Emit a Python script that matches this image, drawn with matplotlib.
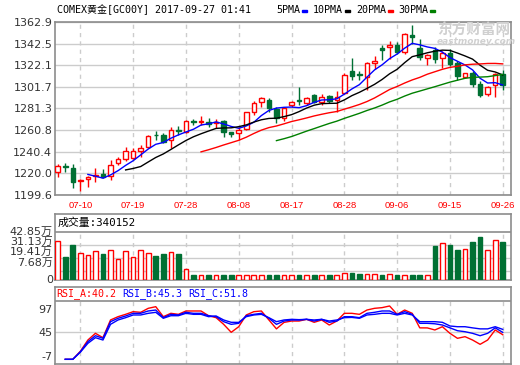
import numpy as np
import pandas as pd
import matplotlib
matplotlib.use('Agg')
import matplotlib.pyplot as plt
from matplotlib.patches import Rectangle

# trading days shown on the chart (07-05 .. 09-26)
dates = pd.bdate_range('2017-07-05', '2017-09-26')
tick_idx = list(range(3, len(dates), 7))

# candle data
opens = [1221.0, 1226.7, 1225.1, 1212.5, 1214.4, 1217.5, 1219.1, 1217.5, 1229.5, 1233.6,
         1234.2, 1241.4, 1244.6, 1256.6, 1255.9, 1251.5, 1260.9, 1259.3, 1269.4, 1268.8,
         1268.5, 1267.8, 1269.7, 1258.7, 1257.8, 1261.6, 1277.7, 1287.1, 1289.3, 1280.8,
         1272.0, 1284.9, 1289.3, 1286.2, 1294.0, 1287.7, 1293.0, 1289.3, 1295.6, 1316.7,
         1313.8, 1311.3, 1324.1, 1338.4, 1339.7, 1341.6, 1335.0, 1350.6, 1338.4, 1328.7,
         1336.3, 1328.7, 1333.8, 1324.1, 1311.3, 1314.5, 1304.6, 1295.1, 1303.0, 1313.6]
closes = [1227.0, 1225.7, 1212.2, 1213.5, 1216.6, 1218.8, 1216.3, 1227.6, 1233.6, 1241.4,
          1240.8, 1243.9, 1255.3, 1255.9, 1249.9, 1260.9, 1259.7, 1269.1, 1268.8, 1269.7,
          1266.6, 1268.8, 1259.3, 1257.2, 1260.9, 1277.7, 1286.2, 1290.9, 1281.4, 1272.0,
          1281.4, 1287.4, 1288.0, 1290.9, 1287.7, 1292.4, 1288.6, 1292.4, 1312.9, 1312.2,
          1312.9, 1323.9, 1326.3, 1336.9, 1341.6, 1334.7, 1351.6, 1349.1, 1329.6, 1331.8,
          1327.9, 1333.8, 1323.7, 1311.9, 1314.5, 1304.6, 1294.1, 1301.4, 1313.6, 1303.6]
highs = [1228.6, 1229.5, 1228.6, 1214.4, 1217.5, 1225.1, 1223.8, 1232.6, 1235.8, 1245.2,
         1244.3, 1246.5, 1256.6, 1260.3, 1257.8, 1263.5, 1264.7, 1270.4, 1271.6, 1274.2,
         1272.0, 1271.3, 1270.4, 1259.3, 1264.1, 1278.4, 1288.3, 1292.4, 1291.4, 1282.9,
         1282.9, 1288.3, 1301.3, 1292.4, 1294.9, 1294.9, 1294.0, 1298.1, 1314.5, 1328.6,
         1317.0, 1325.4, 1331.0, 1341.3, 1344.7, 1343.8, 1352.9, 1360.2, 1346.6, 1333.1,
         1338.9, 1335.4, 1337.2, 1326.3, 1315.1, 1316.7, 1307.6, 1302.4, 1315.1, 1317.4]
lows = [1216.3, 1221.6, 1206.5, 1203.4, 1207.5, 1212.2, 1215.8, 1213.8, 1227.9, 1232.0,
        1233.6, 1235.2, 1243.6, 1251.5, 1248.3, 1243.6, 1256.2, 1258.4, 1265.7, 1265.7,
        1264.1, 1262.9, 1254.1, 1254.1, 1251.5, 1260.9, 1275.1, 1282.9, 1278.2, 1267.8,
        1269.7, 1282.9, 1284.6, 1284.9, 1286.2, 1284.6, 1286.2, 1278.4, 1294.9, 1308.2,
        1308.2, 1298.7, 1318.4, 1327.0, 1327.9, 1332.5, 1333.1, 1342.2, 1327.0, 1322.4,
        1324.6, 1319.9, 1321.4, 1308.3, 1310.4, 1301.4, 1291.9, 1293.5, 1291.9, 1298.7]

# volume in units of 10k (万)
volume = [35.0, 20.7, 31.4, 24.0, 22.2, 25.8, 23.4, 26.6, 18.6, 25.8,
          20.4, 26.6, 24.0, 21.6, 23.4, 24.9, 23.4, 9.6, 4.2, 4.2,
          4.2, 4.2, 4.2, 4.2, 4.2, 4.2, 4.2, 4.2, 4.2, 4.2,
          4.2, 4.2, 4.5, 4.2, 4.5, 4.2, 4.5, 4.2, 6.0, 6.2,
          5.4, 5.1, 5.1, 4.5, 5.1, 4.5, 4.2, 4.5, 4.5, 4.2,
          30.5, 32.9, 31.4, 26.9, 27.5, 34.1, 38.6, 26.9, 35.6, 34.0152]

nan = np.nan
rsi_a = [nan, -13.5, -13.5, 4.0, 28.6, 43.2, 33.7, 72.3, 79.5, 84.6,
         90.4, 89.0, 97.7, 101.3, 79.5, 86.8, 84.6, 91.9, 91.9, 91.9,
         81.6, 77.3, 62.8, 45.4, 57.6, 83.2, 90.4, 91.9, 72.3, 52.9,
         67.0, 70.0, 70.0, 73.7, 67.2, 72.3, 61.3, 70.0, 86.8, 86.8,
         84.6, 94.0, 97.7, 99.2, 102.8, 84.6, 94.0, 86.8, 55.1, 55.0,
         50.5, 57.6, 43.2, 32.3, 35.9, 28.6, 19.2, 28.6, 50.5, 40.2]
rsi_b = [nan, -13.5, -13.5, 3.0, 25.0, 38.0, 32.3, 68.6, 76.0, 81.0,
         86.8, 86.8, 91.9, 94.0, 77.3, 84.6, 83.2, 89.0, 86.8, 86.8,
         81.6, 79.5, 68.6, 62.8, 65.0, 81.6, 84.6, 86.8, 76.0, 62.8,
         70.0, 72.3, 72.3, 73.7, 70.0, 73.7, 67.2, 70.0, 79.5, 79.5,
         77.3, 86.8, 89.0, 91.9, 91.9, 84.6, 90.4, 84.6, 65.0, 65.0,
         64.0, 61.3, 55.1, 48.9, 46.7, 43.2, 38.0, 43.2, 55.1, 45.3]
rsi_c = [nan, -13.5, -13.5, 2.0, 21.4, 33.7, 28.6, 62.8, 72.3, 77.3,
         83.2, 83.2, 86.8, 89.0, 76.0, 81.6, 81.6, 86.8, 84.6, 84.6,
         79.5, 81.0, 72.3, 67.2, 67.0, 79.5, 83.2, 84.6, 77.3, 68.6,
         72.3, 73.7, 73.0, 73.7, 72.3, 73.7, 70.0, 72.3, 77.3, 77.9,
         76.0, 83.2, 84.6, 86.8, 86.8, 83.2, 86.8, 83.2, 68.6, 68.6,
         68.6, 67.2, 59.2, 57.6, 57.6, 55.1, 52.9, 52.9, 57.6, 51.8]

price_ticks = [1199.6, 1220.0, 1240.4, 1260.8, 1281.3, 1301.7, 1322.1, 1342.5, 1362.9]
vol_ticks = [7.68, 19.41, 31.13, 42.85]
rsi_ticks = [-7, 45, 97]

RED = '#ff0000'
GREEN = '#007033'
GRID = '#cccccc'
FRAME = '#8c8c8c'
TXT = '#333333'
MONO = ['DejaVu Sans Mono', 'Noto Sans CJK SC']
SANS = ['DejaVu Sans', 'Noto Sans CJK SC']

W, H = 520, 365
fig = plt.figure(figsize=(W / 100, H / 100), dpi=100)


def box(l, t, r, b):
    return [l / W, 1 - b / H, (r - l) / W, (b - t) / H]


ax = fig.add_axes(box(55, 22, 510.5, 195))
axv = fig.add_axes(box(55, 214, 510.5, 280))
axr = fig.add_axes(box(55, 287, 510.5, 364))

x = np.arange(len(closes))
o = np.array(opens)
c = np.array(closes)
up = c >= o
xlim = (-0.36, 60.03)

for a in (ax, axv, axr):
    a.set_xlim(*xlim)
    for s in a.spines.values():
        s.set_color(FRAME)
        s.set_linewidth(1.2)
    a.tick_params(length=0, labelsize=8, colors=TXT)
    a.set_facecolor('white')

# ---- price panel
ax.set_ylim(1199.6, 1362.9)
ax.set_yticks(price_ticks)
ax.set_yticklabels([f'{v:.1f}' for v in price_ticks], family=SANS)
ax.tick_params(axis='y', pad=2)
ax.set_xticks(tick_idx)
ax.set_xticklabels(dates[tick_idx].strftime('%m-%d'), family='Liberation Sans',
                   fontsize=6.8, color=RED)
ax.tick_params(axis='x', pad=4.5, labelcolor=RED)
ax.grid(axis='y', color=GRID, lw=1)
ax.grid(axis='x', color=GRID, lw=1, ls=(0, (3, 3)))
ax.set_axisbelow(True)

fig.text(437 / W, 1 - 30 / H, '东方财富网', family=SANS, fontsize=10.5, color='#d0d0d0',
         weight='bold', va='center', zorder=0)
fig.text(437 / W, 1 - 41 / H, 'eastmoney.com', family=SANS, fontsize=6.5, color='#d0d0d0',
         weight='bold', style='italic', va='center', zorder=0)

ax.vlines(x, lows, highs, colors=np.where(up, RED, GREEN), lw=1, zorder=2)
body_lo = np.minimum(o, c)
body_h = np.maximum(np.abs(c - o), 0.4)
ax.bar(x[up], body_h[up], bottom=body_lo[up], width=0.6, facecolor='white',
       edgecolor=RED, lw=1, zorder=3)
ax.bar(x[~up], body_h[~up], bottom=body_lo[~up], width=0.6, facecolor=GREEN,
       edgecolor=GREEN, lw=1, zorder=3)

ma_specs = [(5, '#0000ff'), (10, '#000000'), (20, '#ff0000'), (30, '#008000')]
cs = pd.Series(closes)
for n, col in ma_specs:
    ax.plot(x, cs.rolling(n).mean(), color=col, lw=1, zorder=4)

fig.text(57 / W, 1 - 10 / H, 'COMEX黄金[GC00Y] 2017-09-27 01:41', family=MONO,
         fontsize=7.2, va='center', color='#000000')
for (n, col), x0 in zip(ma_specs, [276, 313, 356, 398]):
    lab = f'{n}PMA'
    fig.text(x0 / W, 1 - 10 / H, lab, family=MONO, fontsize=7.2, va='center')
    rx = x0 + 6 * len(lab) + 1.5
    fig.patches.append(Rectangle((rx / W, 1 - 12.3 / H), 5 / W, 2.6 / H,
                                 transform=fig.transFigure, color=col))

# ---- volume panel
vtop = 59.29
axv.set_ylim(0, vtop)
axv.set_yticks([])
axv.set_xticks([])
for v in vol_ticks[:-1]:
    axv.axhline(v, color=GRID, lw=1, zorder=0)
axv.axhline(vol_ticks[-1], color=FRAME, lw=1.2, zorder=1)
axv.vlines(tick_idx, 0, vol_ticks[-1], color=GRID, lw=1, ls=(0, (3, 3)), zorder=0)
vol = np.array(volume)
axv.bar(x[up], vol[up], width=0.62, facecolor='white', edgecolor=RED, lw=1, zorder=3)
axv.bar(x[~up], vol[~up], width=0.62, facecolor=GREEN, edgecolor=GREEN, lw=1, zorder=3)
yax = axv.get_yaxis_transform()
for v, dy in zip(vol_ticks[::-1] + [0], [0, 3, 6.6, 9, 0]):
    lab = '0' if v == 0 else f'{v:.2f}万'
    axv.annotate(lab, xy=(0, v), xycoords=yax, xytext=(-2, dy), textcoords='offset pixels',
                 ha='right', va='center', fontsize=8, color=TXT, family=SANS,
                 annotation_clip=False)
axv.text(3 / 455.5, 1 - 8.7 / 66, f'成交量:{int(round(volume[-1] * 10000))}', transform=axv.transAxes,
         family=MONO, fontsize=7.8, va='center', ha='left', color='#000000')

# ---- RSI panel
rlo, rhi = -23.7, 144.2
strip = 113.7
axr.set_ylim(rlo, rhi)
axr.set_yticks(rsi_ticks)
axr.set_yticklabels([str(t) for t in rsi_ticks], family=SANS)
axr.tick_params(axis='y', pad=2)
axr.set_xticks([])
axr.axhline(45, color=GRID, lw=1, zorder=0)
axr.axhline(strip, color=FRAME, lw=1.2, zorder=1)
axr.vlines(tick_idx, rlo, strip, color=GRID, lw=1, ls=(0, (3, 3)), zorder=0)
axr.plot(x, rsi_a, color='#ff0000', lw=1, zorder=3)
axr.plot(x, rsi_b, color='#0000ff', lw=1, zorder=4)
axr.plot(x, rsi_c, color='#0000ff', lw=1, zorder=4)
for lab, val, col, x0 in [('RSI_A', rsi_a[-1], '#ff0000', 56.7),
                          ('RSI_B', rsi_b[-1], '#0000ff', 122.7),
                          ('RSI_C', rsi_c[-1], '#0000ff', 188.0)]:
    fig.text(x0 / W, 1 - 294 / H, f'{lab}:{val:.1f}', family=MONO, fontsize=7.2,
             va='center', color=col)

fig.savefig('out.png', dpi=100)
